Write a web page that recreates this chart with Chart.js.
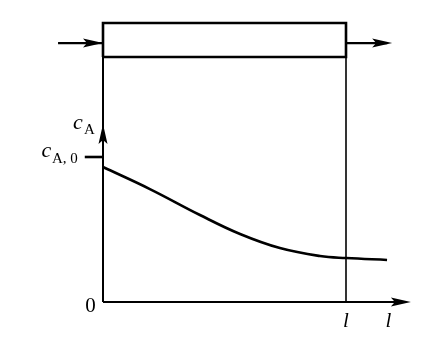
<!DOCTYPE html>
<html>
<head>
<meta charset="utf-8">
<script src="https://cdn.jsdelivr.net/npm/chart.js@4.4.1/dist/chart.umd.min.js"></script>
<style>
  html, body { margin: 0; padding: 0; background: #fff; }
  #wrap { width: 446px; height: 350px; }
</style>
</head>
<body>
<div id="wrap"><canvas id="chart" width="446" height="350"></canvas></div>
<script>
// concentration profile along the tube, l = 1 at the outlet, c_A,0 = 1
const profileL = [0, 0.193, 0.399, 0.564, 0.728, 0.893, 1.0, 1.169];
const profileC = [0.931, 0.779, 0.600, 0.469, 0.372, 0.317, 0.303, 0.290];

// reactor tube (box) and the flow arrows, in the same units
const tubeL = [0, 1.0];
const tubeY = [1.69, 1.924];
const flowY = 1.786;
const inletL = [-0.185, 0];
const outletL = [1.0, 1.19];

// axes
const axisXEnd = 1.267;
const axisYArrow = 1.228;
const c0Tick = [-0.075, 0];

const FONT = "'Liberation Serif', 'DejaVu Serif', serif";
const BLACK = "#000";

const seg = (pts) => pts.map(([x, y]) => ({ x, y }));
const lineDs = (pts, width) => ({
  data: seg(pts),
  borderColor: BLACK,
  borderWidth: width,
  pointRadius: 0,
  showLine: true,
  fill: false,
  tension: 0,
});

const curveDs = {
  data: profileL.map((l, i) => ({ x: l, y: profileC[i] })),
  borderColor: BLACK,
  borderWidth: 2.6,
  pointRadius: 0,
  showLine: true,
  fill: false,
  tension: 0.4,
};

const datasets = [
  curveDs,
  // tube
  lineDs([[tubeL[0], tubeY[0]], [tubeL[1], tubeY[0]], [tubeL[1], tubeY[1]],
          [tubeL[0], tubeY[1]], [tubeL[0], tubeY[0]]], 2.6),
  // y axis, running up into the tube
  lineDs([[0, 0], [0, tubeY[0]]], 2),
  // outlet position line
  lineDs([[1, 0], [1, tubeY[0]]], 1.6),
  // x axis
  lineDs([[0, 0], [axisXEnd - 0.03, 0]], 2),
  // flow in / out
  lineDs([[inletL[0], flowY], [inletL[1], flowY]], 2.2),
  lineDs([[outletL[0], flowY], [outletL[1] - 0.02, flowY]], 2.2),
  // c_A,0 tick
  lineDs([[c0Tick[0], 1], [c0Tick[1], 1]], 2.6),
];

// arrowheads: [tipX, tipY, direction]
const arrows = [
  [inletL[1], flowY, "right"],
  [outletL[1], flowY, "right"],
  [axisXEnd, 0, "right"],
  [0, axisYArrow, "up"],
];

const decorPlugin = {
  id: "decor",
  afterDatasetsDraw(chart) {
    const { ctx, scales: { x, y } } = chart;
    const px = (v) => x.getPixelForValue(v);
    const py = (v) => y.getPixelForValue(v);
    ctx.save();
    ctx.fillStyle = BLACK;

    arrows.forEach(([ax, ay, dir]) => {
      const tx = px(ax), ty = py(ay);
      const len = 20, half = 4.5;
      ctx.beginPath();
      if (dir === "right") {
        ctx.moveTo(tx, ty);
        ctx.lineTo(tx - len, ty - half);
        ctx.lineTo(tx - len + 4, ty);
        ctx.lineTo(tx - len, ty + half);
      } else {
        ctx.moveTo(tx, ty);
        ctx.lineTo(tx - half, ty + len);
        ctx.lineTo(tx, ty + len - 4);
        ctx.lineTo(tx + half, ty + len);
      }
      ctx.closePath();
      ctx.fill();
    });

    ctx.textBaseline = "alphabetic";
    ctx.textAlign = "left";

    // c_A next to the y axis arrow
    ctx.font = "italic 22px " + FONT;
    ctx.fillText("c", px(-0.123), py(1.196));
    ctx.font = "15px " + FONT;
    ctx.fillText("A", px(-0.078), py(1.162));

    // c_A,0 at the tick
    ctx.font = "italic 22px " + FONT;
    ctx.fillText("c", px(-0.253), py(1.0));
    ctx.font = "15px " + FONT;
    ctx.fillText("A, 0", px(-0.21), py(0.96));

    // origin
    ctx.font = "21px " + FONT;
    ctx.textAlign = "right";
    ctx.fillText("0", px(-0.03), py(-0.07));

    // l marks
    ctx.font = "italic 21px " + FONT;
    ctx.textAlign = "center";
    ctx.fillText("l", px(1.0), py(-0.17));
    ctx.fillText("l", px(1.175), py(-0.17));

    ctx.restore();
  },
};

new Chart(document.getElementById("chart"), {
  type: "scatter",
  data: { datasets },
  options: {
    responsive: false,
    animation: false,
    layout: { padding: 0 },
    plugins: { legend: { display: false }, tooltip: { enabled: false } },
    scales: {
      x: { type: "linear", display: false, min: -103 / 243, max: 343 / 243 },
      y: { type: "linear", display: false, min: -48 / 145, max: 302 / 145 },
    },
  },
  plugins: [decorPlugin],
});
</script>
</body>
</html>
